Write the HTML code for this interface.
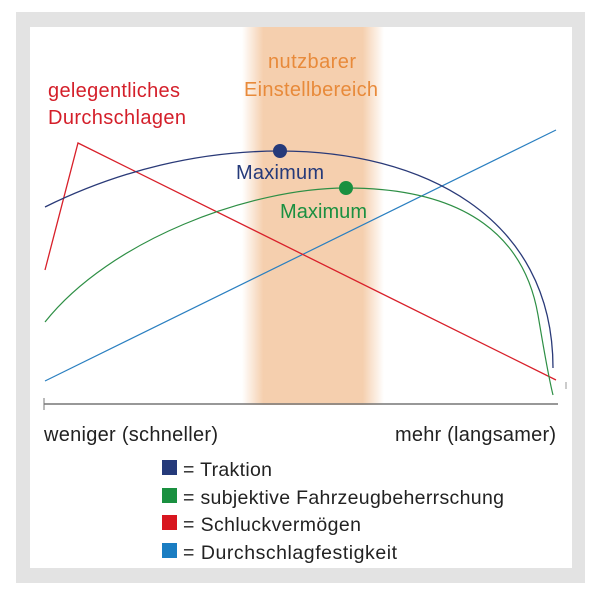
<!DOCTYPE html>
<html><head><meta charset="utf-8"><style>
html,body{margin:0;padding:0;background:#fff;}
svg{display:block;font-family:"Liberation Sans",sans-serif;}
</style></head><body>
<svg width="600" height="593" viewBox="0 0 600 593" xmlns="http://www.w3.org/2000/svg">
<defs>
<linearGradient id="band" x1="0" x2="1" y1="0" y2="0">
<stop offset="0" stop-color="#f5cfae" stop-opacity="0"/>
<stop offset="0.15" stop-color="#f5cfae" stop-opacity="1"/>
<stop offset="0.85" stop-color="#f5cfae" stop-opacity="1"/>
<stop offset="1" stop-color="#f5cfae" stop-opacity="0"/>
</linearGradient>
</defs>
<rect x="16" y="12" width="569" height="571" fill="#e3e3e3"/>
<rect x="30" y="27" width="542" height="541" fill="#fff"/>
<rect x="242" y="27" width="142" height="378" fill="url(#band)"/>
<line x1="44" y1="404" x2="558" y2="404" stroke="#777" stroke-width="1.5"/>
<line x1="44" y1="398" x2="44" y2="410" stroke="#777" stroke-width="1"/>
<line x1="566" y1="382" x2="566" y2="389" stroke="#999" stroke-width="1"/>
<path d="M45,381 L556,130" stroke="#2a7fc0" stroke-width="1.2" fill="none"/>
<path d="M45,270 L78,143 L556,380" stroke="#d8202a" stroke-width="1.3" fill="none"/>
<path d="M45,207 C120,170 200,151 280,151 C420,151 553,215 553,368" stroke="#2a3a78" stroke-width="1.3" fill="none"/>
<path d="M45,322 C110,240 250,188 346,188 C470,188 525,240 538,315 C544,350 548,375 553,395" stroke="#2e8f45" stroke-width="1.2" fill="none"/>
<circle cx="280" cy="151" r="7" fill="#253a7a"/>
<circle cx="346" cy="188" r="7" fill="#1a9040"/>
<g font-size="20">
<text x="312" y="68" fill="#e88a3a" text-anchor="middle" textLength="88">nutzbarer</text>
<text x="311" y="96" fill="#e88a3a" text-anchor="middle" textLength="134">Einstellbereich</text>
<text x="48" y="97" fill="#d41f2a" textLength="132">gelegentliches</text>
<text x="48" y="124" fill="#d41f2a" textLength="138">Durchschlagen</text>
<text x="236" y="179" fill="#253a7a" textLength="88">Maximum</text>
<text x="280" y="218" fill="#1a9040" textLength="87">Maximum</text>
<text x="44" y="441" fill="#222" textLength="174">weniger (schneller)</text>
<text x="395" y="441" fill="#222" textLength="161">mehr (langsamer)</text>
</g>
<g font-size="19.5" fill="#222">
<rect x="162" y="460" width="15" height="15" fill="#253a7a"/>
<rect x="162" y="488" width="15" height="15" fill="#1a9040"/>
<rect x="162" y="515" width="15" height="15" fill="#d8161f"/>
<rect x="162" y="543" width="15" height="15" fill="#1a7dc2"/>
<text x="183" y="476" textLength="89">= Traktion</text>
<text x="183" y="504" textLength="321">= subjektive Fahrzeugbeherrschung</text>
<text x="183" y="531" textLength="178">= Schluckvermögen</text>
<text x="183" y="559" textLength="214">= Durchschlagfestigkeit</text>
</g>
</svg>
</body></html>
